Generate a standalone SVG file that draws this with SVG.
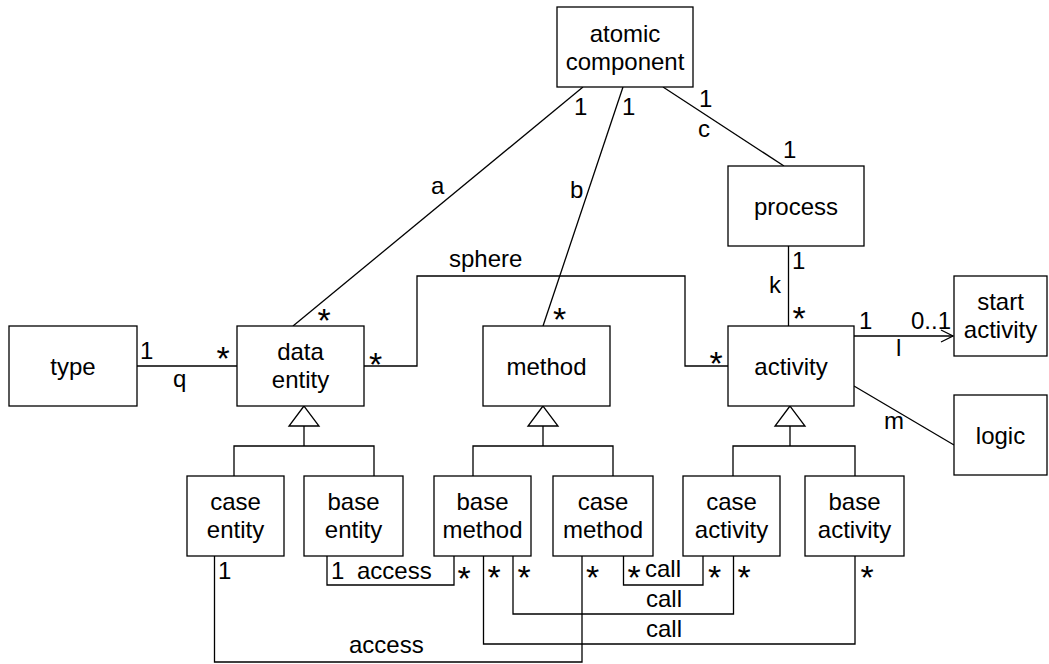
<svg xmlns="http://www.w3.org/2000/svg" width="1049" height="664" viewBox="0 0 1049 664">
  <style>
    .box { fill: #ffffff; stroke: #000000; stroke-width: 1.3; }
    .ln { fill: none; stroke: #000000; stroke-width: 1.3; }
    .tri { fill: #ffffff; stroke: #000000; stroke-width: 1.3; }
    text { font-family: "Liberation Sans", Arial, sans-serif; font-size: 24px; fill: #000000; }
    .c { text-anchor: middle; }
    .star { font-size: 34px; text-anchor: middle; }
  </style>
  <defs>
    <marker id="open-arrow" markerWidth="14" markerHeight="14" refX="13" refY="7" orient="auto" markerUnits="userSpaceOnUse">
      <path d="M1,1 L13,7 L1,13" fill="none" stroke="#000000" stroke-width="1.3"/>
    </marker>
  </defs>
  <rect width="1049" height="664" fill="#ffffff"/>

  <!-- connectors -->
  <g id="connectors">
    <!-- associations from atomic component -->
    <line class="ln" x1="583" y1="87" x2="293" y2="326"/>
    <line class="ln" x1="623" y1="87" x2="543" y2="326"/>
    <line class="ln" x1="663" y1="87" x2="784" y2="166"/>
    <!-- process to activity -->
    <line class="ln" x1="788.5" y1="246" x2="788.5" y2="326"/>
    <!-- type to data entity -->
    <line class="ln" x1="137" y1="366" x2="237" y2="366"/>
    <!-- sphere -->
    <polyline class="ln" points="364,366 417,366 417,276 685,276 685,366 728,366"/>
    <!-- activity to start activity -->
    <line class="ln" x1="854" y1="336" x2="953" y2="336" marker-end="url(#open-arrow)"/>
    <!-- activity to logic -->
    <line class="ln" x1="854" y1="386" x2="954" y2="445"/>

    <!-- generalisation: data entity -->
    <polygon class="tri" points="304,406 289,426 319,426"/>
    <polyline class="ln" points="304,426 304,446"/>
    <polyline class="ln" points="234,476 234,446 374,446 374,476"/>
    <!-- generalisation: method -->
    <polygon class="tri" points="543,406 528,426 558,426"/>
    <polyline class="ln" points="543,426 543,446"/>
    <polyline class="ln" points="473,476 473,446 613,446 613,476"/>
    <!-- generalisation: activity -->
    <polygon class="tri" points="790,406 775,426 805,426"/>
    <polyline class="ln" points="790,426 790,446"/>
    <polyline class="ln" points="733,476 733,446 855,446 855,476"/>

    <!-- access / call links below -->
    <polyline class="ln" points="214.5,556 214.5,662 582,662 582,556"/>
    <polyline class="ln" points="327,556 327,585 454,585 454,556"/>
    <polyline class="ln" points="483.5,556 483.5,644 855,644 855,556"/>
    <polyline class="ln" points="513,556 513,614 733.5,614 733.5,556"/>
    <polyline class="ln" points="623.5,556 623.5,585 703,585 703,556"/>
  </g>

  <!-- nodes -->
  <g id="atomic-component">
    <rect class="box" x="557" y="7" width="136" height="80"/>
    <text class="c" x="625" y="42">atomic</text>
    <text class="c" x="625" y="70">component</text>
  </g>
  <g id="process">
    <rect class="box" x="728" y="166" width="136" height="80"/>
    <text class="c" x="796" y="215">process</text>
  </g>
  <g id="type">
    <rect class="box" x="9" y="326" width="128" height="80"/>
    <text class="c" x="73" y="375">type</text>
  </g>
  <g id="data-entity">
    <rect class="box" x="237" y="326" width="127" height="80"/>
    <text class="c" x="300.5" y="360">data</text>
    <text class="c" x="300.5" y="388">entity</text>
  </g>
  <g id="method">
    <rect class="box" x="483" y="326" width="127" height="80"/>
    <text class="c" x="546.5" y="375">method</text>
  </g>
  <g id="activity">
    <rect class="box" x="728" y="326" width="126" height="80"/>
    <text class="c" x="791" y="375">activity</text>
  </g>
  <g id="start-activity">
    <rect class="box" x="954" y="276" width="93" height="80"/>
    <text class="c" x="1000.5" y="310">start</text>
    <text class="c" x="1000.5" y="338">activity</text>
  </g>
  <g id="logic">
    <rect class="box" x="954" y="395" width="93" height="80"/>
    <text class="c" x="1000.5" y="444">logic</text>
  </g>
  <g id="case-entity">
    <rect class="box" x="187" y="476" width="97" height="80"/>
    <text class="c" x="235.5" y="510">case</text>
    <text class="c" x="235.5" y="538">entity</text>
  </g>
  <g id="base-entity">
    <rect class="box" x="304" y="476" width="99" height="80"/>
    <text class="c" x="353.5" y="510">base</text>
    <text class="c" x="353.5" y="538">entity</text>
  </g>
  <g id="base-method">
    <rect class="box" x="434" y="476" width="97" height="80"/>
    <text class="c" x="482.5" y="510">base</text>
    <text class="c" x="482.5" y="538">method</text>
  </g>
  <g id="case-method">
    <rect class="box" x="553" y="476" width="100" height="80"/>
    <text class="c" x="603" y="510">case</text>
    <text class="c" x="603" y="538">method</text>
  </g>
  <g id="case-activity">
    <rect class="box" x="683" y="476" width="97" height="80"/>
    <text class="c" x="731.5" y="510">case</text>
    <text class="c" x="731.5" y="538">activity</text>
  </g>
  <g id="base-activity">
    <rect class="box" x="805" y="476" width="99" height="80"/>
    <text class="c" x="854.5" y="510">base</text>
    <text class="c" x="854.5" y="538">activity</text>
  </g>

  <!-- association labels and multiplicities -->
  <g id="labels">
    <text x="574" y="115">1</text>
    <text x="622" y="115">1</text>
    <text x="699" y="107">1</text>
    <text x="698" y="137">c</text>
    <text x="783" y="158">1</text>
    <text x="431" y="194">a</text>
    <text x="570" y="198">b</text>
    <text x="449" y="267">sphere</text>
    <text x="792" y="269">1</text>
    <text x="769" y="293">k</text>
    <text x="140" y="359">1</text>
    <text x="173" y="387">q</text>
    <text x="859" y="329">1</text>
    <text x="911" y="329">0..1</text>
    <text x="896" y="356">l</text>
    <text x="884" y="429">m</text>
    <text x="218" y="579">1</text>
    <text x="331" y="579">1</text>
    <text x="357" y="579">access</text>
    <text x="349" y="653">access</text>
    <text x="645" y="577">call</text>
    <text x="646" y="607">call</text>
    <text x="646" y="637">call</text>

    <text class="star" x="223" y="369.5">*</text>
    <text class="star" x="324" y="331.5">*</text>
    <text class="star" x="375.5" y="376">*</text>
    <text class="star" x="559.5" y="331">*</text>
    <text class="star" x="716" y="374.5">*</text>
    <text class="star" x="799" y="330">*</text>
    <text class="star" x="464" y="589.5">*</text>
    <text class="star" x="494" y="588.5">*</text>
    <text class="star" x="524" y="588.5">*</text>
    <text class="star" x="592.5" y="588.5">*</text>
    <text class="star" x="634" y="588.5">*</text>
    <text class="star" x="714.5" y="588.5">*</text>
    <text class="star" x="744" y="588.5">*</text>
    <text class="star" x="867" y="588.5">*</text>
  </g>
</svg>
